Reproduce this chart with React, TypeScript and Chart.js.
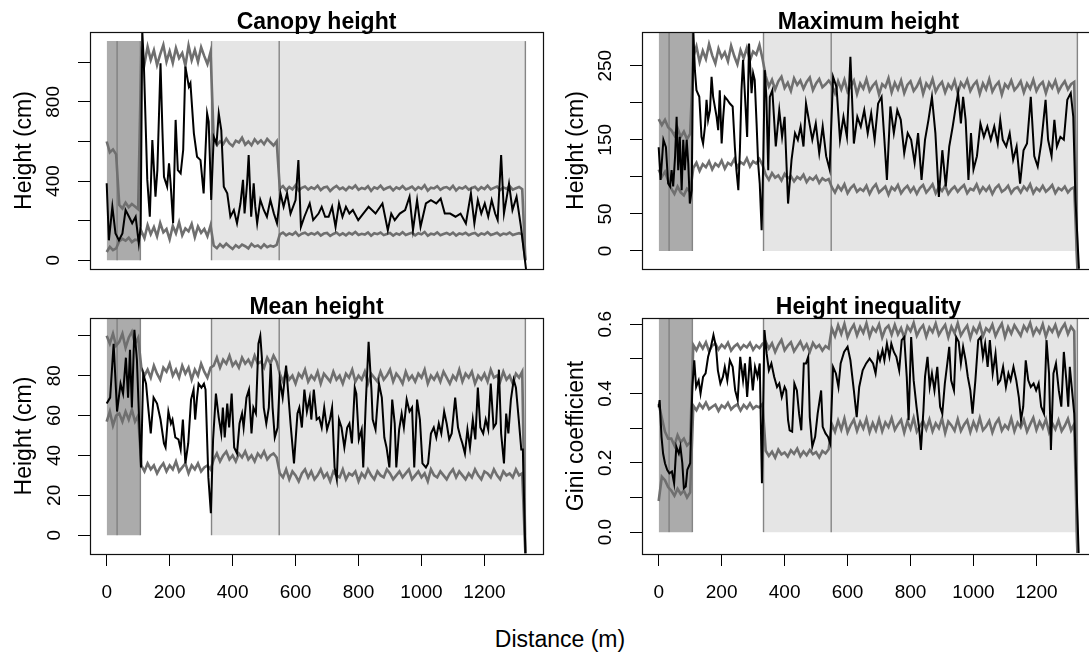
import React, { useEffect, useRef } from "react";
import { Chart, registerables } from "chart.js";
Chart.register(...registerables);

const FONT_FAMILY = '"Liberation Sans", Arial, Helvetica, sans-serif';

// ---------- shared x data ----------
const xTicks = [0, 200, 400, 600, 800, 1000, 1200];
const xTickLabels = ["0", "200", "400", "600", "800", "1000", "1200"];
const darkZone = [0, 107];
const lightZone = [333, 1330];
const zoneLines = [33, 107, 333, 548, 1330];
const envX = [0,10,20,30,40,50,60,70,80,90,100,110,120,130,140,150,160,170,180,190,200,210,220,230,240,250,260,270,280,290,300,310,320,330,340,350,360,370,380,390,400,410,420,430,440,450,460,470,480,490,500,510,520,530,540,550,560,570,580,590,600,610,620,630,640,650,660,670,680,690,700,710,720,730,740,750,760,770,780,790,800,810,820,830,840,850,860,870,880,890,900,910,920,930,940,950,960,970,980,990,1000,1010,1020,1030,1040,1050,1060,1070,1080,1090,1100,1110,1120,1130,1140,1150,1160,1170,1180,1190,1200,1210,1220,1230,1240,1250,1260,1270,1280,1290,1300,1310,1320,1330];

// ---------- Canopy height ----------
const canopyX = [0,7,18,28,39,50,60,71,81,92,102,108,113,118,129,137,145,155,161,171,177,182,192,198,203,211,219,226,235,243,250,261,266,277,287,298,308,319,324,332,340,349,356,364,372,383,393,404,414,425,433,438,446,451,459,467,472,478,488,499,509,520,531,541,552,562,573,584,600,609,617,628,645,656,673,683,694,705,716,727,738,749,760,771,782,799,815,832,854,876,893,904,915,931,948,962,973,986,997,1014,1030,1047,1061,1074,1091,1108,1124,1141,1157,1168,1179,1190,1201,1212,1223,1234,1242,1253,1262,1278,1289,1302,1316,1332];
const canopyY = [389,101,271,136,101,136,254,220,187,220,86,170,1160,995,406,220,607,321,456,995,658,422,372,490,389,187,709,456,439,557,978,877,895,641,523,506,338,742,700,305,624,591,742,658,372,338,220,254,187,288,406,237,389,532,220,389,271,187,305,254,220,305,237,187,338,270,338,236,304,506,169,220,287,203,236,270,220,220,270,169,287,220,270,236,254,203,236,270,236,287,152,236,203,236,254,321,152,304,169,287,304,287,312,236,236,220,236,186,338,186,304,236,287,220,304,236,203,532,236,387,254,321,169,-44];
const canopyUpper = [
  600,545,560,535,
  280,262,291,268,284,272,258,
  1045,992,1078,1012,1061,986,1040,1088,1003,1056,997,1072,1021,1047,983,1084,1011,1062,1002,1076,1031,991,1052,
  608,582,601,586,614,590,577,604,595,619,584,600,581,611,591,606,586,613,596,580,601,
  362,375,354,370,358,379,352,366,373,357,
  369,361,377,355,368,372,350,365,376,359,
  367,354,371,363,378,356,366,360,374,351,
  369,362,377,357,365,371,353,368,360,375,
  358,364,372,355,370,361,379,352,367,363,
  374,356,366,370,359,376,353,368,362,373,
  357,365,371,354,369,360,377,358,366,372,
  355,368,361,375,357,364,370,359,
  0];
const canopyLower = [
  42,68,51,60,
  96,108,99,114,92,104,101,
  148,112,178,132,168,121,188,141,158,106,174,136,192,126,161,146,184,117,171,139,158,122,176,
  74,61,81,66,84,70,57,76,64,79,71,60,83,69,75,62,80,66,74,69,78,
  131,140,126,136,129,142,124,134,139,128,
  137,130,141,125,135,138,123,133,140,127,
  136,126,139,131,143,128,134,130,141,124,
  137,132,140,127,133,138,125,136,129,142,
  128,134,139,126,137,131,143,124,135,130,
  141,127,133,138,129,140,125,136,131,139,
  127,134,138,125,136,130,142,128,133,139,
  126,135,131,140,128,133,137,130,
  0];
const canopyTicks = [0, 200, 400, 600, 800, 1000];
const canopyTickLabels = ["0", "", "400", "", "800", ""];

// ---------- Maximum height ----------
const maxX = [0,6,15,23,30,36,41,46,52,57,62,67,73,78,83,89,94,99,105,110,115,120,129,136,141,147,152,157,163,168,173,184,189,194,200,205,210,218,226,235,242,247,253,258,263,268,277,281,287,295,300,305,311,316,321,327,332,337,342,348,353,361,372,383,392,400,411,422,433,442,451,460,468,477,488,499,510,521,532,543,554,565,576,587,598,609,620,631,642,653,664,675,686,697,708,717,725,736,747,758,769,780,791,802,813,824,835,846,857,868,879,890,901,912,923,934,942,951,960,967,975,984,992,1000,1011,1022,1033,1044,1055,1066,1077,1085,1093,1104,1115,1126,1137,1148,1159,1170,1182,1193,1204,1215,1229,1237,1248,1257,1265,1276,1287,1298,1309,1317,1324,1335];
const maxY = [140,96,150,140,91,87,109,87,127,181,109,154,82,150,109,150,118,64,82,298,244,217,208,154,145,168,204,177,190,235,208,181,163,217,145,181,208,204,199,195,140,109,82,136,217,258,186,154,280,213,240,231,172,118,91,28,118,244,208,109,208,217,141,190,154,181,64,123,159,150,168,141,199,177,150,172,132,168,128,110,235,221,150,181,154,262,145,181,168,190,159,186,150,199,208,150,96,195,159,190,177,132,159,150,119,159,96,150,177,208,159,73,136,87,141,168,190,213,172,208,177,96,159,110,128,172,154,168,150,168,145,177,150,141,159,123,141,91,136,145,208,128,114,145,204,150,128,177,141,154,150,204,213,181,69,-24];
const maxUpper = [
  178,170,177,167,
  163,156,166,154,161,151,158,
  262,276,255,270,259,279,264,253,273,261,268,256,277,263,252,271,260,274,257,269,265,278,259,
  236,222,231,218,229,235,220,227,216,233,224,230,219,228,234,217,226,232,221,225,230,
  224,213,229,218,231,215,222,230,212,226,
  219,232,216,223,228,211,225,221,233,214,
  227,218,230,213,224,229,216,222,231,212,
  226,220,232,215,223,228,214,225,219,230,
  213,227,221,231,216,224,229,212,226,218,
  232,215,223,228,211,225,220,230,217,222,
  229,214,226,219,231,216,224,228,213,227,
  220,230,215,223,229,218,225,228,
  -24];
const maxLower = [
  110,100,107,95,
  84,77,87,79,75,84,80,
  112,119,108,117,113,121,110,118,114,122,111,119,116,124,113,120,117,125,114,121,118,124,116,
  103,96,105,99,102,95,104,98,101,94,100,97,103,93,99,96,101,92,98,95,97,
  86,79,88,82,90,78,85,89,80,84,
  81,88,77,85,90,79,83,87,76,86,
  82,89,78,84,88,80,86,77,85,89,
  79,84,90,78,86,81,88,77,83,87,
  80,85,89,78,84,82,90,79,86,81,
  87,77,85,89,80,83,88,78,84,86,
  79,87,82,90,78,85,81,88,80,84,
  89,78,85,82,87,79,84,86,
  -24];
const maxTicks = [0, 50, 100, 150, 200, 250];
const maxTickLabels = ["0", "50", "", "150", "", "250"];

// ---------- Mean height ----------
const meanX = [0,11,22,33,44,52,61,68,74,80,88,96,103,109,116,125,132,140,149,160,171,182,187,196,204,209,218,228,235,242,250,259,268,276,281,287,292,301,309,314,323,331,338,347,356,364,369,375,383,389,397,405,414,422,430,435,444,452,460,466,474,482,488,493,499,507,515,521,527,534,543,550,559,570,584,595,606,612,620,628,636,645,650,658,667,675,683,691,700,709,716,724,731,738,746,755,764,771,779,788,793,801,810,815,823,832,841,845,854,865,874,882,889,898,907,915,920,929,937,944,953,962,970,977,986,995,1003,1014,1021,1030,1039,1047,1055,1063,1072,1080,1088,1096,1107,1116,1124,1130,1138,1146,1154,1163,1171,1179,1187,1196,1204,1212,1220,1229,1237,1246,1253,1262,1269,1276,1284,1293,1300,1309,1317,1322,1330];
const meanY = [66,69,96,62,76,71,89,69,93,64,103,88,58,34,81,76,64,51,69,66,58,46,44,62,56,58,49,48,43,58,36,46,68,73,58,69,76,74,76,73,29,11,48,71,59,51,64,49,66,54,71,44,41,56,61,54,69,73,51,64,61,96,100,89,64,56,64,86,64,49,54,78,69,85,56,36,61,64,54,73,62,69,58,73,58,59,54,64,53,58,64,34,28,58,54,44,54,56,46,74,71,48,53,34,66,97,73,58,53,76,69,49,44,34,68,56,34,53,61,54,68,62,64,34,68,58,36,34,36,51,54,49,56,51,62,56,48,51,69,54,49,46,41,53,44,58,48,74,54,51,58,53,76,54,56,83,51,36,61,51,68,78,74,58,43,43,-9];
const meanUpper = [
  100,96,101,95,
  97,101,94,99,102,96,99,
  84,80,83,79,85,81,78,84,82,86,80,83,79,85,81,84,78,83,80,86,82,79,84,
  85,89,84,88,86,90,85,87,84,89,86,88,85,90,86,87,84,89,86,90,87,
  81,77,82,78,80,76,81,79,83,77,
  80,78,82,76,81,79,77,82,78,80,
  76,81,79,83,77,80,78,82,76,81,
  79,77,82,78,80,83,77,81,79,76,
  82,78,80,77,81,79,83,76,80,78,
  81,77,82,79,76,80,78,83,77,81,
  79,82,76,80,78,81,77,83,79,80,
  77,82,78,80,76,81,79,82,
  -9];
const meanLower = [
  57,62,55,60,
  61,57,62,58,63,57,60,
  35,32,36,33,35,31,34,36,32,35,33,37,32,34,36,31,35,33,36,32,34,35,33,
  38,41,37,40,42,38,40,37,41,39,42,38,40,37,41,39,42,38,40,41,39,
  31,29,33,28,32,30,27,31,33,29,
  32,28,30,33,29,31,27,32,30,29,
  33,28,31,30,32,27,31,29,33,30,
  28,32,30,29,33,31,28,30,32,29,
  31,33,28,30,32,29,31,27,33,30,
  29,32,30,28,31,33,29,32,30,28,
  31,29,33,30,28,32,31,29,33,30,
  28,32,30,31,29,33,30,31,
  -9];
const meanTicks = [0, 20, 40, 60, 80, 100];
const meanTickLabels = ["0", "20", "40", "60", "80", ""];

// ---------- Height inequality ----------
const giniX = [0,3,9,14,20,27,34,42,49,56,64,69,75,80,86,91,100,107,113,119,127,133,141,149,157,166,174,182,188,196,204,210,218,226,235,243,251,259,268,274,281,290,299,306,314,321,328,336,343,350,358,367,376,383,391,400,405,411,416,424,431,439,446,453,461,468,475,480,488,497,505,516,521,530,538,545,554,563,571,578,589,600,609,620,629,637,648,659,670,681,689,697,703,711,717,725,733,739,747,755,764,772,780,788,794,802,810,819,828,833,841,846,854,861,868,876,885,894,901,909,918,923,929,938,945,953,960,967,975,982,990,997,1006,1015,1023,1030,1037,1045,1052,1061,1070,1078,1085,1094,1103,1111,1118,1127,1136,1144,1151,1158,1166,1174,1182,1191,1199,1207,1215,1224,1232,1240,1246,1254,1262,1271,1279,1287,1295,1301,1306,1312,1320,1328,1334];
const giniY = [0.36,0.381,0.275,0.227,0.199,0.18,0.17,0.175,0.141,0.247,0.227,0.247,0.199,0.127,0.132,0.18,0.199,0.42,0.496,0.419,0.438,0.4,0.448,0.458,0.506,0.535,0.569,0.535,0.467,0.429,0.448,0.477,0.438,0.496,0.477,0.409,0.381,0.506,0.438,0.487,0.39,0.506,0.409,0.477,0.448,0.487,0.141,0.583,0.515,0.467,0.487,0.448,0.419,0.429,0.39,0.419,0.409,0.323,0.294,0.29,0.429,0.409,0.342,0.294,0.487,0.487,0.506,0.332,0.247,0.275,0.342,0.409,0.304,0.285,0.275,0.256,0.477,0.458,0.419,0.487,0.52,0.535,0.496,0.409,0.332,0.419,0.467,0.487,0.501,0.487,0.458,0.515,0.496,0.525,0.496,0.544,0.506,0.544,0.52,0.506,0.467,0.554,0.563,0.448,0.323,0.563,0.438,0.362,0.294,0.237,0.352,0.448,0.506,0.419,0.458,0.409,0.477,0.362,0.342,0.429,0.496,0.535,0.438,0.409,0.563,0.549,0.487,0.535,0.496,0.448,0.409,0.342,0.438,0.554,0.563,0.506,0.544,0.477,0.554,0.458,0.515,0.429,0.438,0.477,0.419,0.458,0.438,0.477,0.438,0.39,0.323,0.362,0.496,0.438,0.419,0.429,0.409,0.429,0.362,0.342,0.554,0.458,0.237,0.458,0.487,0.409,0.362,0.52,0.438,0.362,0.477,0.419,0.342,0.11,-0.06];
const giniUpper = [
  0.37,0.33,0.29,0.27,
  0.27,0.25,0.28,0.26,0.27,0.25,0.26,
  0.54,0.525,0.545,0.53,0.548,0.522,0.538,0.544,0.527,0.541,0.532,0.547,0.524,0.536,0.543,0.528,0.54,0.533,0.546,0.526,0.539,0.531,0.544,
  0.55,0.53,0.545,0.52,0.54,0.555,0.525,0.538,0.548,0.522,0.536,0.55,0.528,0.542,0.52,0.546,0.532,0.54,0.524,0.537,0.53,
  0.588,0.566,0.597,0.572,0.601,0.563,0.584,0.599,0.568,0.592,
  0.575,0.603,0.565,0.59,0.579,0.6,0.562,0.587,0.596,0.57,
  0.598,0.571,0.589,0.561,0.594,0.58,0.604,0.567,0.586,0.597,
  0.564,0.591,0.577,0.602,0.569,0.585,0.598,0.562,0.593,0.574,
  0.603,0.568,0.583,0.596,0.56,0.59,0.576,0.6,0.565,0.588,
  0.579,0.599,0.566,0.586,0.602,0.563,0.592,0.573,0.597,0.582,
  0.567,0.595,0.581,0.604,0.57,0.589,0.575,0.6,0.564,0.591,
  0.578,0.598,0.568,0.587,0.601,0.572,0.593,0.58,
  -0.06];
const giniLower = [
  0.09,0.16,0.15,0.13,
  0.12,0.105,0.125,0.11,0.12,0.1,0.115,
  0.365,0.352,0.37,0.358,0.374,0.355,0.362,0.368,0.35,0.366,0.359,0.373,0.354,0.363,0.369,0.351,0.367,0.357,0.372,0.356,0.364,0.36,0.37,
  0.235,0.22,0.232,0.215,0.238,0.224,0.23,0.218,0.236,0.226,0.241,0.219,0.233,0.222,0.237,0.225,0.231,0.216,0.234,0.227,0.239,
  0.312,0.29,0.322,0.296,0.328,0.288,0.309,0.325,0.292,0.318,
  0.299,0.327,0.289,0.315,0.294,0.326,0.291,0.317,0.303,0.329,
  0.295,0.311,0.324,0.287,0.32,0.298,0.33,0.29,0.306,0.321,
  0.297,0.325,0.291,0.314,0.3,0.328,0.286,0.319,0.308,0.293,
  0.326,0.292,0.31,0.323,0.289,0.318,0.296,0.329,0.294,0.305,
  0.321,0.288,0.313,0.327,0.293,0.309,0.298,0.328,0.291,0.316,
  0.302,0.324,0.29,0.311,0.33,0.295,0.319,0.301,0.326,0.289,
  0.315,0.297,0.323,0.292,0.307,0.327,0.294,0.312,
  -0.06];
const giniTicks = [0, 0.1, 0.2, 0.3, 0.4, 0.5, 0.6];
const giniTickLabels = ["0.0", "", "0.2", "", "0.4", "", "0.6"];

// ---------- panel definitions ----------
type PanelDef = {
  key: string;
  title: string;
  yTitle: string;
  xs: number[];
  ys: number[];
  upper: number[];
  lower: number[];
  yTicks: number[];
  yTickLabels: string[];
  yMin: number;
  yMax: number;
  zoneTop: number;
  left: number;
  boxTop: number;
  bottomRow: boolean;
  yTickPad: number;
};

const panels: PanelDef[] = [
  { key: "canopy", title: "Canopy height", yTitle: "Height (cm)", xs: canopyX, ys: canopyY, upper: canopyUpper, lower: canopyLower, yTicks: canopyTicks, yTickLabels: canopyTickLabels, yMin: -44, yMax: 1153, zoneTop: 1107, left: 0, boxTop: 32, bottomRow: false, yTickPad: 8 },
  { key: "max", title: "Maximum height", yTitle: "Height (cm)", xs: maxX, ys: maxY, upper: maxUpper, lower: maxLower, yTicks: maxTicks, yTickLabels: maxTickLabels, yMin: -24.3, yMax: 295.5, zoneTop: 300, left: 552, boxTop: 32, bottomRow: false, yTickPad: 8 },
  { key: "mean", title: "Mean height", yTitle: "Height (cm)", xs: meanX, ys: meanY, upper: meanUpper, lower: meanLower, yTicks: meanTicks, yTickLabels: meanTickLabels, yMin: -9.4, yMax: 108.9, zoneTop: 112, left: 0, boxTop: 318, bottomRow: true, yTickPad: 13 },
  { key: "gini", title: "Height inequality", yTitle: "Gini coefficient", xs: giniX, ys: giniY, upper: giniUpper, lower: giniLower, yTicks: giniTicks, yTickLabels: giniTickLabels, yMin: -0.063, yMax: 0.618, zoneTop: 0.63, left: 552, boxTop: 318, bottomRow: true, yTickPad: 11 },
];

const CANVAS_W = 547;
const Y_AXIS_W = 90;
const X_AXIS_H = 60;
const TOP_PAD = 20;

const boxPlugin = {
  id: "rbox",
  afterDraw(chart: any) {
    const { ctx, chartArea: a } = chart;
    ctx.save();
    ctx.strokeStyle = "#111";
    ctx.lineWidth = 1.2;
    ctx.strokeRect(Math.round(a.left) + 0.5, Math.round(a.top) + 0.5, Math.round(a.right - a.left), Math.round(a.bottom - a.top));
    ctx.restore();
  },
};

const pts = (xs: number[], ys: number[]) => xs.map((x, i) => ({ x, y: ys[i] }));

const zeroPad = (s: any) => {
  s.paddingTop = 0;
  s.paddingBottom = 0;
  s.paddingLeft = 0;
  s.paddingRight = 0;
};

function Panel({ p }: { p: PanelDef }) {
  const ref = useRef<HTMLCanvasElement>(null);
  const canvasTop = p.boxTop - TOP_PAD;
  const boxBottom = p.bottomRow ? 554 : 269;
  const height = p.bottomRow ? boxBottom - canvasTop + X_AXIS_H : boxBottom + 4 - canvasTop;

  useEffect(() => {
    const canvas = ref.current;
    if (!canvas) return;
    const tickFont = { family: FONT_FAMILY, size: 19 };
    const envColor = "#6f6f6f";
    const datasets: any[] = [];
    datasets.push({
      label: "line",
      data: pts(p.xs, p.ys),
      borderColor: "#000",
      borderWidth: 2,
      pointRadius: 0,
      fill: false,
      order: 0,
    });
    datasets.push({ label: "upper", data: pts(envX, p.upper), borderColor: envColor, borderWidth: 2.6, pointRadius: 0, fill: false, order: 1 });
    datasets.push({ label: "lower", data: pts(envX, p.lower), borderColor: envColor, borderWidth: 2.6, pointRadius: 0, fill: false, order: 1 });
    zoneLines.forEach((zx, i) => {
      datasets.push({
        label: "zl" + i,
        data: [{ x: zx, y: 0 }, { x: zx, y: p.zoneTop }],
        borderColor: i === 0 ? "#707070" : "#858585",
        borderWidth: i === 0 ? 1 : 1.4,
        pointRadius: 0,
        fill: false,
        order: 2,
      });
    });
    datasets.push({
      label: "dark",
      data: [{ x: darkZone[0], y: p.zoneTop }, { x: darkZone[1], y: p.zoneTop }],
      borderWidth: 0,
      borderColor: "rgba(0,0,0,0)",
      backgroundColor: "#ababab",
      pointRadius: 0,
      fill: "origin",
      order: 3,
    });
    datasets.push({
      label: "light",
      data: [{ x: lightZone[0], y: p.zoneTop }, { x: lightZone[1], y: p.zoneTop }],
      borderWidth: 0,
      borderColor: "rgba(0,0,0,0)",
      backgroundColor: "#e5e5e5",
      pointRadius: 0,
      fill: "origin",
      order: 3,
    });

    const chart = new Chart(canvas, {
      type: "line",
      data: { datasets },
      plugins: [boxPlugin],
      options: {
        animation: false,
        responsive: false,
        maintainAspectRatio: false,
        events: [],
        layout: { autoPadding: false, padding: { top: TOP_PAD, right: 4, left: 0, bottom: p.bottomRow ? 0 : 4 } },
        plugins: { legend: { display: false }, tooltip: { enabled: false }, title: { display: false } },
        elements: { line: { tension: 0 }, point: { radius: 0 } },
        scales: {
          x: {
            type: "linear",
            display: p.bottomRow,
            min: -53,
            max: 1386,
            afterBuildTicks: (s: any) => {
              s.ticks = xTicks.map((v) => ({ value: v }));
            },
            afterFit: (s: any) => {
              s.height = p.bottomRow ? X_AXIS_H : 0;
              zeroPad(s);
            },
            ticks: {
              autoSkip: false,
              maxRotation: 0,
              minRotation: 0,
              padding: 15,
              color: "#000",
              font: tickFont,
              callback: (_v: any, i: number) => xTickLabels[i],
            },
            grid: { display: true, drawOnChartArea: false, drawTicks: true, tickLength: 12, tickColor: "#000", tickWidth: 1, color: "#000" },
            border: { display: false },
          },
          y: {
            type: "linear",
            min: p.yMin,
            max: p.yMax,
            afterBuildTicks: (s: any) => {
              s.ticks = p.yTicks.map((v) => ({ value: v }));
            },
            afterFit: (s: any) => {
              s.width = Y_AXIS_W;
              zeroPad(s);
            },
            ticks: {
              autoSkip: false,
              minRotation: 90,
              maxRotation: 90,
              crossAlign: "center",
              padding: p.yTickPad,
              color: "#000",
              font: tickFont,
              callback: (_v: any, i: number) => p.yTickLabels[i],
            },
            grid: { display: true, drawOnChartArea: false, drawTicks: true, tickLength: 12, tickColor: "#000", tickWidth: 1, color: "#000" },
            border: { display: false },
            title: {
              display: true,
              text: p.yTitle,
              color: "#000",
              font: { family: FONT_FAMILY, size: 23 },
              padding: { top: 11, bottom: 0 },
            },
          },
        },
      } as any,
    });
    return () => chart.destroy();
  }, []);

  return (
    <canvas
      ref={ref}
      width={CANVAS_W}
      height={height}
      style={{ position: "absolute", left: p.left, top: canvasTop, width: CANVAS_W, height }}
    />
  );
}

export default function App() {
  return (
    <div
      style={{
        position: "absolute",
        left: 0,
        top: 0,
        width: 1089,
        height: 655,
        overflow: "hidden",
        background: "#fff",
        fontFamily: FONT_FAMILY,
        color: "#000",
      }}
    >
      {panels.map((p) => (
        <Panel key={p.key} p={p} />
      ))}
      {panels.map((p) => (
        <div
          key={p.key + "-t"}
          style={{
            position: "absolute",
            left: p.left + Y_AXIS_W,
            width: 453,
            top: p.bottomRow ? 295 : 10,
            textAlign: "center",
            fontWeight: "bold",
            fontSize: 23,
            lineHeight: "23px",
            whiteSpace: "nowrap",
          }}
        >
          {p.title}
        </div>
      ))}
      <div
        style={{
          position: "absolute",
          left: 0,
          width: 1120,
          top: 628,
          textAlign: "center",
          fontSize: 23,
          lineHeight: "23px",
        }}
      >
        Distance (m)
      </div>
    </div>
  );
}
